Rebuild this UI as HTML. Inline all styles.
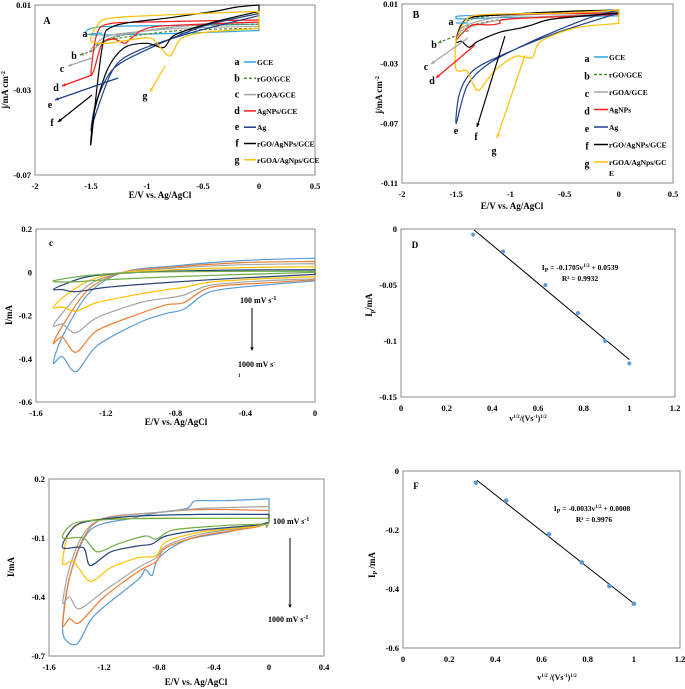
<!DOCTYPE html>
<html><head><meta charset="utf-8"><style>
body{margin:0;background:#fff}
svg{display:block;font-family:"Liberation Serif",serif;font-weight:bold}
</style></head><body>
<svg id="fig" width="685" height="689" viewBox="0 0 685 689" xmlns="http://www.w3.org/2000/svg"></svg>
<script>
// ---------- DATA ----------
const aTicksX=[-2,-1.5,-1,-0.5,0,0.5];
const aTicksY=[0.01,-0.03,-0.07];
const aGCE=[[0,0.001],[-0.5,0.0005],[-1.3,0.0],[-1.5,-0.001],[-1.55,-0.003],[-1.5,-0.004],[-1.3,-0.004],[-0.5,-0.003],[0,-0.002]];
const aRGO=[[0,0.001],[-0.7,0.0],[-1.2,-0.004],[-1.45,-0.009],[-1.3,-0.006],[-0.7,-0.002],[0,-0.001]];
const aRGOA=[[0,0.002],[-0.7,0.0],[-1.3,-0.005],[-1.5,-0.012],[-1.45,-0.008],[-1.3,-0.004],[-0.7,-0.001],[0,0.0]];
const aAgNP=[[0,0.003],[-1,0.002],[-1.35,0.001],[-1.45,-0.004],[-1.5,-0.022],[-1.47,-0.02],[-1.4,-0.008],[-1.3,-0.006],[-1.2,-0.008],[-1.15,-0.006],[-1.05,-0.002],[-0.9,0.0],[-0.5,0.001],[0,0.002]];
const aAg=[[0,0.006],[-0.5,0.0],[-1,-0.011],[-1.3,-0.02],[-1.45,-0.035],[-1.5,-0.049],[-1.45,-0.04],[-1.3,-0.02],[-1.1,-0.012],[-0.6,-0.003],[0,0.005]];
const aRGOAg=[[0,0.01],[-0.2,0.009],[-0.4,0.007],[-0.8,0.004],[-1.3,0.0],[-1.4,-0.01],[-1.5,-0.055],[-1.47,-0.04],[-1.35,-0.02],[-1.2,-0.01],[-1.0,-0.008],[-0.85,-0.01],[-0.75,-0.004],[-0.4,0.002],[0,0.007]];
const aRGOAAg=[[0,0.007],[-0.5,0.006],[-1.3,0.004],[-1.45,0.0],[-1.5,-0.007],[-1.35,-0.008],[-1.1,-0.006],[-0.95,-0.006],[-0.8,-0.014],[-0.7,-0.006],[-0.5,-0.003],[0,-0.001]];

const bTicksY=[0.01,-0.03,-0.07,-0.11];
const bGCE=[[0,0.004],[-1,0.003],[-1.45,0.002],[-1.5,0.001],[-1.45,0.0],[-1,0.001],[0,0.002]];
const bRGO=[[0,0.005],[-1,0.003],[-1.35,0.0],[-1.47,-0.006],[-1.35,-0.004],[-1,0.0],[0,0.003]];
const bRGOA=[[0,0.005],[-1,0.002],[-1.4,-0.004],[-1.5,-0.012],[-1.4,-0.006],[-1,0.0],[0,0.004]];
const bAgNP=[[0,0.004],[-1,0.003],[-1.4,0.0],[-1.5,-0.014],[-1.45,-0.01],[-1.35,-0.004],[-1.2,-0.004],[-1.1,-0.003],[-1,0.0],[0,0.003]];
const bAg=[[0,0.006],[-0.3,0.0],[-0.8,-0.015],[-1.2,-0.03],[-1.4,-0.045],[-1.5,-0.07],[-1.47,-0.05],[-1.35,-0.035],[-1.1,-0.025],[-0.6,-0.01],[0,0.004]];
const bRGOAg=[[0,0.006],[-0.5,0.005],[-1,0.003],[-1.4,0.0],[-1.5,-0.015],[-1.45,-0.015],[-1.38,-0.019],[-1.3,-0.015],[-1.1,-0.009],[-0.9,-0.006],[-0.8,-0.004],[-0.6,0.0],[0,0.004]];
const bRGOAAg=[[0,0.006],[-0.5,0.004],[-1.2,0.003],[-1.4,0.0],[-1.5,-0.015],[-1.5,-0.034],[-1.4,-0.035],[-1.3,-0.048],[-1.15,-0.035],[-0.95,-0.025],[-0.8,-0.026],[-0.72,-0.015],[-0.4,-0.006],[0,-0.003]];

const cTicksX=[-1.6,-1.2,-0.8,-0.4,0];
const cTicksY=[0.2,0,-0.2,-0.4,-0.6];
const c1000=[[0,0.065],[-0.4,0.055],[-0.8,0.03],[-1.1,0.0],[-1.3,-0.1],[-1.45,-0.3],[-1.5,-0.42],[-1.45,-0.39],[-1.37,-0.46],[-1.25,-0.34],[-1.0,-0.23],[-0.85,-0.19],[-0.75,-0.17],[-0.6,-0.09],[-0.3,-0.06],[0,-0.04]];
const c800=[[0,0.05],[-0.4,0.045],[-0.8,0.025],[-1.1,0.0],[-1.3,-0.08],[-1.45,-0.25],[-1.5,-0.33],[-1.45,-0.3],[-1.37,-0.37],[-1.25,-0.27],[-1.0,-0.19],[-0.85,-0.15],[-0.75,-0.14],[-0.6,-0.07],[-0.3,-0.05],[0,-0.035]];
const c600=[[0,0.04],[-0.4,0.035],[-0.8,0.02],[-1.1,0.0],[-1.3,-0.06],[-1.45,-0.19],[-1.5,-0.25],[-1.45,-0.24],[-1.37,-0.28],[-1.25,-0.21],[-1.0,-0.14],[-0.85,-0.12],[-0.75,-0.105],[-0.6,-0.06],[-0.3,-0.04],[0,-0.03]];
const c400=[[0,0.025],[-0.4,0.022],[-0.8,0.012],[-1.1,0.0],[-1.3,-0.04],[-1.45,-0.12],[-1.5,-0.165],[-1.45,-0.16],[-1.37,-0.18],[-1.25,-0.14],[-1.0,-0.1],[-0.85,-0.08],[-0.75,-0.07],[-0.6,-0.045],[-0.3,-0.03],[0,-0.02]];
const c200=[[0,0.012],[-0.5,0.01],[-1.0,0.0],[-1.3,-0.02],[-1.45,-0.06],[-1.5,-0.08],[-1.45,-0.08],[-1.37,-0.09],[-1.2,-0.07],[-0.9,-0.05],[-0.5,-0.03],[0,-0.01]];
const c100=[[0,0.005],[-0.5,0.004],[-1.0,0.0],[-1.3,-0.015],[-1.5,-0.04],[-1.4,-0.045],[-1.2,-0.035],[-0.8,-0.02],[-0.4,-0.01],[0,0.0]];

const dX=[0.316,0.447,0.632,0.775,0.894,1.0];
const dY=[-0.005,-0.02,-0.05,-0.075,-0.1,-0.12];
const dTicksX=[0,0.2,0.4,0.6,0.8,1,1.2];
const dTicksY=[0,-0.05,-0.1,-0.15];

const eTicksX=[-1.6,-1.2,-0.8,-0.4,0,0.4];
const eTicksY=[0.2,-0.1,-0.4,-0.7];
const e1000=[[0,0.1],[-0.3,0.09],[-0.5,0.09],[-0.55,0.085],[-0.6,0.05],[-0.8,0.03],[-1.0,0.0],[-1.3,-0.06],[-1.45,-0.3],[-1.5,-0.58],[-1.4,-0.64],[-1.3,-0.52],[-1.2,-0.45],[-0.95,-0.31],[-0.9,-0.26],[-0.85,-0.29],[-0.8,-0.2],[-0.6,-0.11],[-0.3,-0.07],[0,-0.02]];
const e800=[[0,0.04],[-0.5,0.045],[-0.8,0.03],[-1.2,0.0],[-1.35,-0.1],[-1.45,-0.3],[-1.5,-0.54],[-1.45,-0.51],[-1.38,-0.53],[-1.2,-0.4],[-0.95,-0.27],[-0.82,-0.22],[-0.75,-0.15],[-0.5,-0.09],[-0.1,-0.045],[0,-0.02]];
const e600=[[0,0.06],[-0.5,0.05],[-0.8,0.03],[-1.2,0.0],[-1.35,-0.08],[-1.45,-0.25],[-1.5,-0.43],[-1.45,-0.4],[-1.38,-0.46],[-1.2,-0.37],[-0.95,-0.25],[-0.82,-0.2],[-0.75,-0.14],[-0.5,-0.08],[-0.1,-0.04],[0,-0.02]];
const e400=[[0,0.0],[-0.5,0.0],[-1.0,0.0],[-1.3,-0.01],[-1.45,-0.07],[-1.5,-0.23],[-1.42,-0.22],[-1.3,-0.32],[-1.15,-0.25],[-0.95,-0.2],[-0.82,-0.19],[-0.75,-0.12],[-0.5,-0.07],[-0.1,-0.04],[0,-0.02]];
const e200=[[0,0.02],[-0.5,0.02],[-1.0,0.01],[-1.35,-0.02],[-1.45,-0.07],[-1.5,-0.15],[-1.35,-0.15],[-1.3,-0.24],[-1.15,-0.17],[-0.95,-0.14],[-0.85,-0.13],[-0.75,-0.09],[-0.5,-0.06],[-0.1,-0.035],[0,-0.02]];
const e100=[[0,0.0],[-0.5,0.0],[-1.0,-0.002],[-1.35,-0.015],[-1.45,-0.04],[-1.5,-0.1],[-1.35,-0.1],[-1.25,-0.17],[-1.1,-0.13],[-0.9,-0.09],[-0.82,-0.105],[-0.7,-0.06],[-0.4,-0.04],[-0.05,-0.03],[-0.02,-0.045],[0,-0.02]];

const fX=[0.316,0.447,0.632,0.775,0.894,1.0];
const fY=[-0.04,-0.1,-0.215,-0.31,-0.39,-0.45];
const fTicksY=[0,-0.2,-0.4,-0.6];

// ---------- DRAWING ----------
const svg=document.getElementById('fig');
const NS='http://www.w3.org/2000/svg';
function mk(tag,attrs,name,parent){
  const el=document.createElementNS(NS,tag);
  for(const k in attrs) el.setAttribute(k,attrs[k]);
  
  
  (parent||svg).appendChild(el);
  return el;
}
function txt(x,y,s,size,name,anchor,extra){
  const t=mk('text',Object.assign({x:x,y:y,'font-size':size,'text-anchor':anchor||'middle'},extra||{}),name);
  t.innerHTML=s; return t;
}
function panel(id,L,R,T,B,x0,x1,y0,y1,ticksX,ticksY,fmtX,fmtY){
  const sx=v=>L+(v-x0)/(x1-x0)*(R-L);
  const sy=v=>T+(y0-v)/(y0-y1)*(B-T);
  mk('rect',{x:L,y:T,width:R-L,height:B-T,fill:'none',stroke:'#8a8a8a','stroke-width':1},id+'-plot-frame');
  ticksX.forEach(v=>txt(sx(v),B+14,fmtX(v),8.5,id+'-x-tick'));
  ticksY.forEach(v=>txt(L-4,sy(v)+3,fmtY(v),8.5,id+'-y-tick','end'));
  return {sx,sy};
}
function curve(p,pts,color,name,dash,w){
  const P=pts.map(q=>[p.sx(q[0]),p.sy(q[1])]);
  const n=P.length;
  let d='M'+P[0][0].toFixed(1)+' '+P[0][1].toFixed(1);
  for(let i=0;i<n-1;i++){
    const p0=P[Math.max(i-1,0)],p1=P[i],p2=P[i+1],p3=P[Math.min(i+2,n-1)];
    const t=0.15;
    const c1=[p1[0]+(p2[0]-p0[0])*t,p1[1]+(p2[1]-p0[1])*t];
    const c2=[p2[0]-(p3[0]-p1[0])*t,p2[1]-(p3[1]-p1[1])*t];
    d+=' C'+c1[0].toFixed(1)+' '+c1[1].toFixed(1)+' '+c2[0].toFixed(1)+' '+c2[1].toFixed(1)+' '+p2[0].toFixed(1)+' '+p2[1].toFixed(1);
  }
  d+=' Z';
  const a={d:d,fill:'none',stroke:color,'stroke-width':w||1.2,'stroke-linejoin':'round'};
  if(dash) a['stroke-dasharray']=dash;
  mk('path',a,name);
}
function line(x1,y1,x2,y2,color,name,w,dash){
  const a={x1,y1,x2,y2,stroke:color,'stroke-width':w||1};
  if(dash) a['stroke-dasharray']=dash;
  mk('line',a,name);
}
function arrowHead(x,y,ang,color,name){
  const s=4;
  const p=[[x,y],[x-s*Math.cos(ang-0.45),y-s*Math.sin(ang-0.45)],[x-s*Math.cos(ang+0.45),y-s*Math.sin(ang+0.45)]];
  mk('polygon',{points:p.map(q=>q.join(',')).join(' '),fill:color},name);
}
function pointer(x1,y1,x2,y2,color,name,dash){
  line(x1,y1,x2,y2,color,name,1.2,dash);
  arrowHead(x1,y1,Math.atan2(y1-y2,x1-x2),color,name+'-head');
}
const f1=v=>String(v);
const f2=v=>v===0?'0':String(v);
const cols={a:'#2aa7dd',b:'#4f8a2c',c:'#a6a6a6',d:'#ff1a1a',e:'#1f3f8a',f:'#000000',g:'#ffc000'};

// Panel A
const pA=panel('a',35,315,5,175,-2,0.5,0.01,-0.07,aTicksX,aTicksY,f1,f1);
curve(pA,aGCE,cols.a,'a-curve-gce');
curve(pA,aRGO,cols.b,'a-curve-rgo','3,2');
curve(pA,aRGOA,cols.c,'a-curve-rgoa');
curve(pA,aAgNP,cols.d,'a-curve-agnps');
curve(pA,aAg,cols.e,'a-curve-ag');
curve(pA,aRGOAg,cols.f,'a-curve-rgo-agnps');
curve(pA,aRGOAAg,cols.g,'a-curve-rgoa-agnps');
txt(47,24,'A',10,'a-panel-label','middle');
txt(85,37,'a',10,'a-label-a');line(90,34,102,33,cols.a,'a-pointer-a',1.2);
txt(74,59,'b',10,'a-label-b');pointer(80,55,95,50,cols.b,'a-pointer-b','3,2');
txt(62,72,'c',10,'a-label-c');pointer(68,66,92,58,cols.c,'a-pointer-c');
txt(56,91,'d',10,'a-label-d');pointer(62,86,92,75,cols.d,'a-pointer-d');
txt(50,108,'e',10,'a-label-e');pointer(55,100,118,78,cols.e,'a-pointer-e');
txt(52,126,'f',10,'a-label-f');pointer(58,122,92,95,cols.f,'a-pointer-f');
txt(145,99,'g',10,'a-label-g');pointer(150,92,165,66,cols.g,'a-pointer-g');
const aLeg=[['a','GCE'],['b','rGO/GCE'],['c','rGOA/GCE'],['d','AgNPs/GCE'],['e','Ag'],['f','rGO/AgNPs/GCE'],['g','rGOA/AgNps/GCE']];
aLeg.forEach((it,i)=>{const y=62+i*16.3;
  txt(237,y+3,it[0],10,'a-legend-letter-'+it[0]);
  line(244,y,256,y,cols[it[0]],'a-legend-line-'+it[0],1.5,it[0]==='b'?'3,2':null);
  txt(257,y+3,it[1],7.5,'a-legend-text-'+it[0],'start');});
txt(8,90,'j/mA cm<tspan font-size="6" dy="-3">-2</tspan>',9,'a-y-axis-title','middle',{transform:'rotate(-90 8 90)'});
txt(160,198,'E/V vs. Ag/AgCl',9,'a-x-axis-title');

// Panel B
const pB=panel('b',402,673,4,183,-2,0.5,0.01,-0.11,aTicksX,bTicksY,f1,f1);
curve(pB,bGCE,cols.a,'b-curve-gce');
curve(pB,bRGO,cols.b,'b-curve-rgo','3,2');
curve(pB,bRGOA,cols.c,'b-curve-rgoa');
curve(pB,bAgNP,cols.d,'b-curve-agnps');
curve(pB,bAg,cols.e,'b-curve-ag');
curve(pB,bRGOAg,cols.f,'b-curve-rgo-agnps');
curve(pB,bRGOAAg,cols.g,'b-curve-rgoa-agnps');
txt(416,18,'B',10,'b-panel-label');
txt(451,25,'a',10,'b-label-a');line(456,23,468,23,cols.a,'b-pointer-a',1.2);
txt(434,48,'b',10,'b-label-b');pointer(438,43,470,30,cols.b,'b-pointer-b','3,2');
txt(426,70,'c',10,'b-label-c');pointer(431,64,468,38,cols.c,'b-pointer-c');
txt(432,84,'d',10,'b-label-d');pointer(436,78,475,45,cols.d,'b-pointer-d');
txt(456,134,'e',10,'b-label-e');
txt(476,140,'f',10,'b-label-f');pointer(477,127,505,36,cols.f,'b-pointer-f');
txt(494,154,'g',10,'b-label-g');pointer(497,138,525,55,cols.g,'b-pointer-g');
const bLeg=[['a','GCE'],['b','rGO/GCE'],['c','rGOA/GCE'],['d','AgNPs'],['e','Ag'],['f','rGO/AgNPs/GCE'],['g','rGOA/AgNps/GC']];
bLeg.forEach((it,i)=>{const y=57+i*17.5;
  txt(587,y+5,it[0],10,'b-legend-letter-'+it[0]);
  line(594,y,608,y,cols[it[0]],'b-legend-line-'+it[0],1.5,it[0]==='b'?'3,2':null);
  txt(609,y+3,it[1],7.5,'b-legend-text-'+it[0],'start');});
txt(609,176,'E',7.5,'b-legend-text-g-wrap','start');
txt(382,95,'j/mA cm<tspan font-size="6" dy="-3">-2</tspan>',9,'b-y-axis-title','middle',{transform:'rotate(-90 382 95)'});
txt(512,209,'E/V vs. Ag/AgCl',9,'b-x-axis-title');

// Panel C
const pC=panel('c',36,315,229,402,-1.6,0,0.2,-0.6,cTicksX,cTicksY,f1,f2);
const cCols=['#5b9bd5','#ed7d31','#a5a5a5','#ffc000','#264478','#70ad47'];
[c1000,c800,c600,c400,c200,c100].forEach((d,i)=>curve(pC,d,cCols[i],'c-curve-'+['1000','800','600','400','200','100'][i]));
txt(51,246,'c',9,'c-panel-label');
txt(240,303,'100 mV s<tspan font-size="6" dy="-3">-1</tspan>',8,'c-annotation-100','start');
line(252,308,252,348,'#000','c-rate-arrow',1);arrowHead(252,351,Math.PI/2,'#000','c-rate-arrow-head');
txt(238,367,'1000 mV s<tspan font-size="6" dy="-3">-</tspan>',8,'c-annotation-1000','start');
txt(238,377,'1',5,'c-annotation-1000-wrap','start');
txt(12,315,'I/mA',9,'c-y-axis-title','middle',{transform:'rotate(-90 12 315)'});
txt(176,425,'E/V vs. Ag/AgCl',9,'c-x-axis-title');

// Panel D
const pD=panel('d',401,675,229,397,0,1.2,0,-0.15,dTicksX,dTicksY,f1,f2);
function fit(xs,ys){const n=xs.length,mx=xs.reduce((a,b)=>a+b)/n,my=ys.reduce((a,b)=>a+b)/n;
  let sxy=0,sxx=0;xs.forEach((x,i)=>{sxy+=(x-mx)*(ys[i]-my);sxx+=(x-mx)*(x-mx);});const m=sxy/sxx;return [m,my-m*mx];}
const dFit=fit(dX,dY);
line(pD.sx(0.32),pD.sy(dFit[0]*0.32+dFit[1]),pD.sx(1.0),pD.sy(dFit[0]*1.0+dFit[1]),'#000','d-trendline',1);
dX.forEach((x,i)=>mk('circle',{cx:pD.sx(x),cy:pD.sy(dY[i]),r:2,fill:'#5b9bd5'},'d-point'));
txt(415,248,'D',9,'d-panel-label');
txt(580,270,'I<tspan font-size="6" dy="2">P</tspan><tspan dy="-2"> = -0.1705v</tspan><tspan font-size="5" dy="-3">1/2</tspan><tspan dy="3"> + 0.0539</tspan>',7.5,'d-equation');
txt(580,281,'R² = 0.9932',7.5,'d-r-squared');
txt(372,305,'I<tspan font-size="6" dy="2">p</tspan><tspan dy="-2">/mA</tspan>',9,'d-y-axis-title','middle',{transform:'rotate(-90 372 305)'});
txt(528,421,'v<tspan font-size="5" dy="-3">1/2</tspan><tspan dy="3">/(Vs</tspan><tspan font-size="5" dy="-3">-1</tspan><tspan dy="3">)</tspan><tspan font-size="5" dy="-3">1/2</tspan>',8,'d-x-axis-title');

// Panel E
const pE=panel('e',49,324,479,656,-1.6,0.4,0.2,-0.7,eTicksX,eTicksY,f1,f1);
[e1000,e800,e600,e400,e200,e100].forEach((d,i)=>curve(pE,d,cCols[i],'e-curve-'+['1000','800','600','400','200','100'][i]));
txt(273,524,'100 mV s<tspan font-size="6" dy="-3">-1</tspan>',8,'e-annotation-100','start');
line(290,538,290,604,'#000','e-rate-arrow',1);arrowHead(290,608,Math.PI/2,'#000','e-rate-arrow-head');
txt(268,622,'1000 mV s<tspan font-size="6" dy="-3">-1</tspan>',8,'e-annotation-1000','start');
txt(14,567,'I/mA',9,'e-y-axis-title','middle',{transform:'rotate(-90 14 567)'});
txt(196,685,'E/V vs. Ag/AgCl',9,'e-x-axis-title');

// Panel F
const pF=panel('f',403,680,471,648,0,1.2,0,-0.6,dTicksX,fTicksY,f1,f2);
const fFit=fit(fX,fY);
line(pF.sx(0.32),pF.sy(fFit[0]*0.32+fFit[1]),pF.sx(1.0),pF.sy(fFit[0]*1.0+fFit[1]),'#000','f-trendline',1);
fX.forEach((x,i)=>mk('circle',{cx:pF.sx(x),cy:pF.sy(fY[i]),r:2.3,fill:'#5b9bd5'},'f-point'));
txt(416,489,'F',9,'f-panel-label');
txt(592,511,'I<tspan font-size="6" dy="2">P</tspan><tspan dy="-2"> = -0.0033v</tspan><tspan font-size="5" dy="-3">1/2</tspan><tspan dy="3"> + 0.0008</tspan>',7.5,'f-equation');
txt(594,522,'R² = 0.9976',7.5,'f-r-squared');
txt(375,565,'I<tspan font-size="6" dy="2">P</tspan><tspan dy="-2"> /mA</tspan>',9,'f-y-axis-title','middle',{transform:'rotate(-90 375 565)'});
txt(557,680,'v<tspan font-size="5" dy="-3">1/2</tspan><tspan dy="3"> /(Vs</tspan><tspan font-size="5" dy="-3">-1</tspan><tspan dy="3">)</tspan><tspan font-size="5" dy="-3">1/2</tspan>',8,'f-x-axis-title');
</script>
</body></html>
